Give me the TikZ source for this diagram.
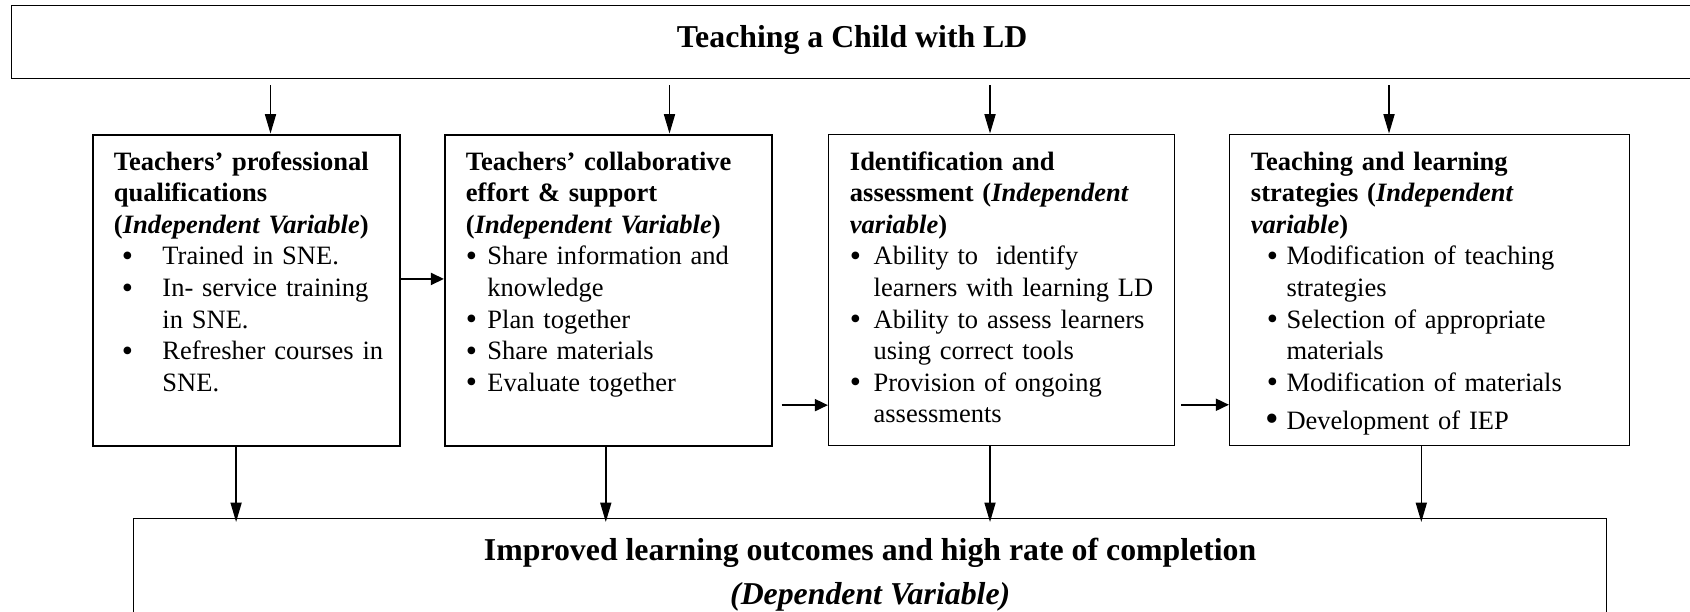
\documentclass[tikz,border=0pt]{standalone}
\usepackage{fontspec}
\setmainfont{Liberation Serif}
\usetikzlibrary{
  arrows.meta,
  positioning
}
\newlength{\pxu}
\setlength{\pxu}{0.4528pt}
\setlength{\parindent}{0pt}
\setlength{\parskip}{0pt}
% Bullet line: [symbol]{bullet offset}{text indent}{text}.
\newcommand{\blt}[4][{\raisebox{-0.7pt}{\fontsize{14.5}{14.3}\selectfont\textbullet}}]{\par\hangindent=#3\hangafter=1\makebox[#3][l]{\hspace*{#2}#1}#4\par}

\tikzset{
  varbox/.style = {
    draw,
    line width = 0.55pt,
    anchor = north west,
    minimum height = 311.5\pxu,
    inner sep = 0pt
  },
  thickbox/.style = {
    varbox,
    line width = 0.9pt
  },
  vartext/.style = {
    anchor = north west,
    inner sep = 0pt,
    text width = 330\pxu,
    align = left,
    font = \fontsize{12}{14.3}\selectfont
  },
  down/.style = {
    line width = 0.7pt,
    -{Triangle[length=8.8pt, width=5pt]}
  },
  across/.style = {
    line width = 1.1pt,
    -{Triangle[length=6pt, width=5.4pt]}
  }
}

\begin{document}
\begin{tikzpicture}[x=0.4528pt, y=-0.4528pt]
  \useasboundingbox (0,0) rectangle (1690,612);

  % Title.
  \node[draw, line width=0.6pt, anchor=north west, minimum width=1681\pxu,
    inner sep=0pt, text height=41.7\pxu, text depth=31.3\pxu,
    font=\fontsize{14.4}{17}\selectfont\bfseries] (child) at (11,5)
    {Teaching a Child with LD};

  % Independent variables.
  \node[thickbox, minimum width=307\pxu] (qual) at (92,133.6) {};
  \node[thickbox, minimum width=327\pxu] (collab) at (444,133.6) {};
  \node[varbox, minimum width=346\pxu] (ident) at (828,133.6) {};
  \node[varbox, minimum width=400\pxu] (strat) at (1229,133.6) {};

  \node[vartext] (qualtext) at ([shift={(21.5,14)}]qual.north west) {%
    \strut\textbf{Teachers' professional\newline qualifications\newline (\textit{Independent Variable})}
    \blt{8\pxu}{48.5\pxu}{Trained in SNE.}
    \blt{8\pxu}{48.5\pxu}{In- service training\newline in SNE.}
    \blt{8\pxu}{48.5\pxu}{Refresher courses in\newline SNE.}};

  \node[vartext] (collabtext) at ([shift={(21.5,14)}]collab.north west) {%
    \strut\textbf{Teachers' collaborative\newline effort \& support\newline (\textit{Independent Variable})}
    \blt{0\pxu}{21.5\pxu}{\makebox[252\pxu][s]{Share information and}\newline knowledge}
    \blt{0\pxu}{21.5\pxu}{Plan together}
    \blt{0\pxu}{21.5\pxu}{Share materials}
    \blt{0\pxu}{21.5\pxu}{Evaluate together}};

  \node[vartext] (identtext) at ([shift={(21.5,14)}]ident.north west) {%
    \strut\textbf{Identification and\newline assessment (\textit{Independent}\newline \textit{variable})}
    \blt{0\pxu}{23.7\pxu}{Ability to~ identify\newline learners with learning LD}
    \blt{0\pxu}{23.7\pxu}{Ability to assess learners\newline using correct tools}
    \blt{0\pxu}{23.7\pxu}{Provision of ongoing\newline assessments}};

  \node[vartext] (strattext) at ([shift={(21.5,14)}]strat.north west) {%
    \strut\textbf{Teaching and learning\newline strategies (\textit{Independent}\newline \textit{variable})}
    \blt{16\pxu}{35.6\pxu}{Modification of teaching\newline strategies}
    \blt{16\pxu}{35.6\pxu}{Selection of appropriate\newline materials}
    \blt{16\pxu}{35.6\pxu}{Modification of materials}
    \vspace{3pt}\blt[{\raisebox{-1pt}{\fontsize{17.5}{14.3}\selectfont\textbullet}}]{15\pxu}{35.6\pxu}{Development of IEP}};

  % Dependent variable.
  \node[draw, line width=0.6pt, anchor=north west, minimum width=1473\pxu,
    minimum height=130\pxu] (outcome) at (133,518) {};
  \node[anchor=north, inner sep=0pt, align=center,
    font=\fontsize{14.4}{20}\selectfont\bfseries] (outcometext)
    at ([yshift=-10.8\pxu]outcome.north)
    {\strut Improved learning outcomes and high rate of completion\\\textit{(Dependent Variable)}};

  % Links from the title.
  \draw[down, shorten <=6\pxu] ([xshift=24\pxu]qual.north |- child.south) -- ([xshift=24\pxu]qual.north);
  \draw[down, shorten <=6\pxu] ([xshift=61\pxu]collab.north |- child.south) -- ([xshift=61\pxu]collab.north);
  \draw[down, shorten <=6\pxu] ([xshift=-11.6\pxu]ident.north |- child.south) -- ([xshift=-11.6\pxu]ident.north);
  \draw[down, shorten <=6\pxu] ([xshift=-40.6\pxu]strat.north |- child.south) -- ([xshift=-40.6\pxu]strat.north);

  % Links between boxes.
  \draw[across] ([yshift=11.4\pxu]qual.east) -- ([yshift=11.4\pxu]qual.east -| collab.west);
  \draw[across, shorten <=8.6\pxu] ([yshift=-114.8\pxu]collab.east) -- ([yshift=-114.8\pxu]collab.east -| ident.west);
  \draw[across, shorten <=6\pxu] ([yshift=-114.8\pxu]ident.east) -- ([yshift=-114.8\pxu]ident.east -| strat.west);

  % Links to the outcome.
  \draw[down, shorten >=-4\pxu] ([xshift=-10.4\pxu]qual.south) -- ([xshift=-10.4\pxu]qual.south |- outcome.north);
  \draw[down, shorten >=-4\pxu] ([xshift=-2.7\pxu]collab.south) -- ([xshift=-2.7\pxu]collab.south |- outcome.north);
  \draw[down, shorten >=-4\pxu] ([xshift=-11.6\pxu]ident.south) -- ([xshift=-11.6\pxu]ident.south |- outcome.north);
  \draw[down, shorten >=-4\pxu] ([xshift=-8.3\pxu]strat.south) -- ([xshift=-8.3\pxu]strat.south |- outcome.north);
\end{tikzpicture}
\end{document}
